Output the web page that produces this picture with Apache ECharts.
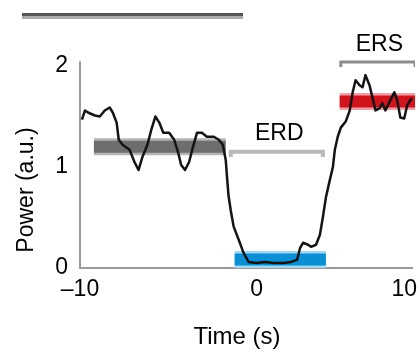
<!DOCTYPE html>
<html>
<head>
<meta charset="utf-8">
<script src="https://cdn.jsdelivr.net/npm/echarts@6/dist/echarts.min.js"></script>
<style>
  html, body { margin: 0; padding: 0; background: #fff; }
  #chart { width: 420px; height: 354px; }
</style>
</head>
<body>
<div id="chart"></div>
<script>
// power trace
const timeS = [-9.88, -9.69, -9.51, -9.08, -8.78, -8.47, -8.17, -7.98, -7.74, -7.61,
  -7.37, -6.94, -6.64, -6.39, -6.15, -5.84, -5.60, -5.35, -5.11, -4.86,
  -4.50, -4.19, -3.94, -3.76, -3.52, -3.27, -3.03, -2.78, -2.48, -2.17,
  -1.74, -1.44, -1.19, -1.01, -0.93, -0.84, -0.70, -0.52, -0.21, 0.09,
  0.40, 0.89, 1.44, 1.93, 2.54, 3.03, 3.39, 3.58, 3.76, 4.07,
  4.25, 4.56, 4.80, 4.98, 5.17, 5.41, 5.60, 5.72, 5.90, 6.09,
  6.39, 6.64, 6.82, 7.00, 7.25, 7.43, 7.61, 7.86, 8.04, 8.23,
  8.47, 8.65, 8.84, 9.14, 9.39, 9.57, 9.76, 10.0, 10.18, 10.37, 10.49];
const power = [1.47, 1.56, 1.54, 1.51, 1.50, 1.56, 1.59, 1.54, 1.44, 1.27,
  1.22, 1.17, 1.05, 0.97, 1.10, 1.22, 1.37, 1.50, 1.44, 1.34,
  1.34, 1.27, 1.14, 1.02, 0.97, 1.05, 1.20, 1.34, 1.34, 1.30,
  1.30, 1.27, 1.22, 1.07, 0.90, 0.72, 0.57, 0.41, 0.28, 0.15,
  0.06, 0.05, 0.06, 0.05, 0.05, 0.06, 0.08, 0.20, 0.25, 0.23,
  0.21, 0.23, 0.33, 0.50, 0.70, 0.87, 1.00, 1.17, 1.30, 1.39,
  1.45, 1.56, 1.74, 1.86, 1.81, 1.79, 1.91, 1.81, 1.69, 1.56,
  1.58, 1.63, 1.56, 1.66, 1.74, 1.66, 1.49, 1.48, 1.61, 1.66, 1.68];

// mean bands: [start, end] and level
const baseSpan = [-9.14, -1.01];
const baseLevel = 1.20;
const erdSpan = [-0.46, 5.17];
const erdLevel = 0.084;
const ersSpan = [6.02, 10.67];
const ersLevel = 1.65;

// brackets and their labels
const erdBracketSpan = [-0.70, 4.98];
const erdBracketLevel = 1.15;
const ersBracketSpan = [6.09, 10.67];
const ersBracketLevel = 2.04;
const bracketTick = 0.05;
const labelNames = ['ERD', 'ERS'];
const labelPos = [[2.29, 1.33], [8.47, 2.21]];

const xTicks = [-10, 0, 10];
const yTicks = [0, 1, 2];

const font = '"Liberation Sans", Arial, sans-serif';

function band(span, level, outer, inner) {
  const pts = [[span[0], level], [span[1], level]];
  return [
    { type: 'line', data: pts, symbol: 'none', clip: false, silent: true,
      lineStyle: { color: outer, width: 17, cap: 'butt' } },
    { type: 'line', data: pts, symbol: 'none', clip: false, silent: true,
      lineStyle: { color: inner, width: 12, cap: 'butt' } },
  ];
}

function bracket(span, level, color, width) {
  return {
    type: 'line',
    data: [[span[0], level - bracketTick], [span[0], level], [span[1], level], [span[1], level - bracketTick]],
    symbol: 'none', clip: false, silent: true,
    lineStyle: { color, width, cap: 'butt', join: 'miter' },
  };
}

const chart = echarts.init(document.getElementById('chart'));

chart.setOption({
  animation: false,
  grid: { left: 80, right: 5, top: 62, bottom: 86 },
  xAxis: {
    type: 'value',
    min: -10,
    max: 10.5,
    interval: 10,
    axisLine: { onZero: false, lineStyle: { color: '#9a9a9a', width: 2 } },
    axisTick: { show: false },
    splitLine: { show: false },
    axisLabel: {
      color: '#000', fontSize: 23, fontFamily: font, margin: 10,
      formatter: (v) => {
        if (!xTicks.includes(v)) return '';
        if (v === 0) return '{z|0}';
        return v < 0 ? '\u2013' + (-v) : String(v);
      },
      rich: { z: { padding: [0, 0, 0, 29], fontSize: 23, fontFamily: font, color: '#000' } },
    },
  },
  yAxis: {
    type: 'value',
    min: 0,
    max: 2.04,
    interval: 1,
    axisLine: { show: true, onZero: false, lineStyle: { color: '#9a9a9a', width: 2 } },
    axisTick: { show: false },
    splitLine: { show: false },
    axisLabel: {
      color: '#000', fontSize: 23, fontFamily: font, margin: 12,
      formatter: (v) => (yTicks.includes(v) ? String(v) : ''),
    },
  },
  graphic: [
    { type: 'rect', shape: { x: 22, y: 13, width: 221, height: 3 }, style: { fill: '#555' } },
    { type: 'rect', shape: { x: 22, y: 16, width: 221, height: 3 }, style: { fill: '#aaa' } },
    { type: 'text', x: 237, y: 337,
      style: { text: 'Time (s)', font: '24px ' + font, fill: '#000', align: 'center', verticalAlign: 'middle' } },
    { type: 'text', x: 27, y: 190, rotation: Math.PI / 2,
      style: { text: 'Power (a.u.)', font: '23px ' + font, fill: '#000', align: 'center', verticalAlign: 'middle' } },
  ],
  series: [
    ...band(baseSpan, baseLevel, '#b4b4b4', '#6e6e6e'),
    ...band(erdSpan, erdLevel, '#9fd6f2', '#0a8fd4'),
    ...band(ersSpan, ersLevel, '#f0a0a4', '#d0141e'),
    bracket(erdBracketSpan, erdBracketLevel, '#b9b9b9', 4),
    bracket(ersBracketSpan, ersBracketLevel, '#8c8c8c', 3),
    {
      type: 'line',
      data: timeS.map((t, i) => [t, power[i]]),
      symbol: 'none',
      clip: false,
      lineStyle: { color: '#141414', width: 2.5, join: 'round' },
    },
    {
      type: 'scatter',
      data: labelPos.map((p, i) => ({ value: p, name: labelNames[i] })),
      symbolSize: 0,
      clip: false,
      itemStyle: { opacity: 1, color: 'rgba(0,0,0,0)' },
      label: {
        show: true, position: 'inside', formatter: '{b}',
        color: '#000', fontSize: 23, fontFamily: font,
      },
    },
  ],
});
</script>
</body>
</html>
